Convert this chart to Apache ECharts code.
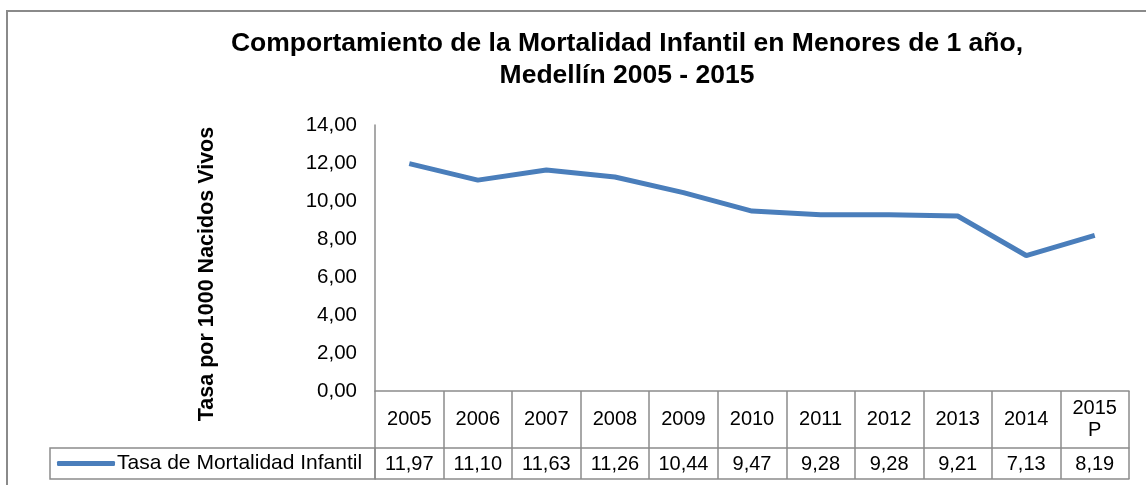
<!DOCTYPE html>
<html>
<head>
<meta charset="utf-8">
<script src="https://cdn.jsdelivr.net/npm/echarts@6/dist/echarts.min.js"></script>
<style>
  html, body { margin: 0; padding: 0; background: #fff; }
  #chart { width: 1146px; height: 485px; }
</style>
</head>
<body>
<div id="chart"></div>
<script>
// datos
const years = ['2005', '2006', '2007', '2008', '2009', '2010', '2011', '2012', '2013', '2014', '2015\nP'];
const tasa = [11.97, 11.10, 11.63, 11.26, 10.44, 9.47, 9.28, 9.28, 9.21, 7.13, 8.19];
const serieName = 'Tasa de Mortalidad Infantil';
const titulo = 'Comportamiento de la Mortalidad Infantil en Menores de 1 año,\nMedellín 2005 - 2015';
const yName = 'Tasa por 1000 Nacidos Vivos';

const font = "'Liberation Sans', Arial, sans-serif";
const borde = '#8c8c8c';
const coma = v => v.toFixed(2).replace('.', ',');

let myChart = echarts.init(document.getElementById('chart'));
let option = {
  animation: false,
  textStyle: { fontFamily: font },
  grid: { left: 375, right: 17, top: 125, bottom: 94 },
  graphic: [
    // marco exterior
    {
      type: 'rect',
      shape: { x: 7, y: 11, width: 1150, height: 490 },
      style: { fill: 'none', stroke: '#8a8a8a', lineWidth: 2 }
    },
    // titulo
    {
      type: 'text',
      x: 627,
      y: 28,
      style: {
        text: titulo,
        textAlign: 'center',
        textVerticalAlign: 'top',
        font: 'bold 26.5px ' + font,
        lineHeight: 32,
        fill: '#000'
      }
    },
    // celda de la leyenda en la tabla
    {
      type: 'rect',
      shape: { x: 50, y: 448, width: 325, height: 31 },
      style: { fill: 'none', stroke: borde, lineWidth: 1.5 }
    }
  ],
  legend: {
    data: [serieName],
    left: 57,
    top: 453,
    icon: 'roundRect',
    itemWidth: 58,
    itemHeight: 5,
    itemGap: 0,
    padding: 0,
    textStyle: { fontSize: 21, color: '#000', fontFamily: font, padding: [0, 0, 0, -3] }
  },
  xAxis: [
    {
      type: 'category',
      data: years,
      boundaryGap: true,
      axisLine: { lineStyle: { color: borde, width: 1.5 } },
      axisTick: { show: true, interval: 0, length: 57, lineStyle: { color: borde, width: 1.5 } },
      axisLabel: {
        interval: 0, margin: 28, verticalAlign: 'middle',
        fontSize: 20, lineHeight: 22, color: '#000'
      }
    },
    {
      type: 'category',
      data: tasa.map(coma),
      position: 'bottom',
      offset: 57,
      boundaryGap: true,
      axisLine: { lineStyle: { color: borde, width: 1.5 } },
      axisTick: { show: true, interval: 0, length: 31, lineStyle: { color: borde, width: 1.5 } },
      axisLabel: {
        interval: 0, margin: 16, verticalAlign: 'middle',
        fontSize: 20, color: '#000'
      }
    },
    {
      type: 'category',
      data: years,
      position: 'bottom',
      offset: 88,
      axisLine: { lineStyle: { color: borde, width: 1.5 } },
      axisTick: { show: false },
      axisLabel: { show: false }
    }
  ],
  yAxis: {
    type: 'value',
    min: 0,
    max: 14,
    interval: 2,
    name: yName,
    nameLocation: 'middle',
    nameGap: 157,
    nameTextStyle: { fontSize: 21.5, fontWeight: 'bold', color: '#000', padding: [0, 32, 0, 0] },
    axisLine: { show: true, lineStyle: { color: borde, width: 1.5 } },
    axisTick: { show: false },
    splitLine: { show: false },
    axisLabel: { fontSize: 20.5, color: '#000', margin: 18, formatter: v => coma(v) }
  },
  series: [
    {
      name: serieName,
      type: 'line',
      xAxisIndex: 0,
      data: tasa,
      symbol: 'none',
      itemStyle: { color: '#4a7ebb' },
      lineStyle: { color: '#4a7ebb', width: 5 }
    }
  ]
};
myChart.setOption(option);
</script>
</body>
</html>
